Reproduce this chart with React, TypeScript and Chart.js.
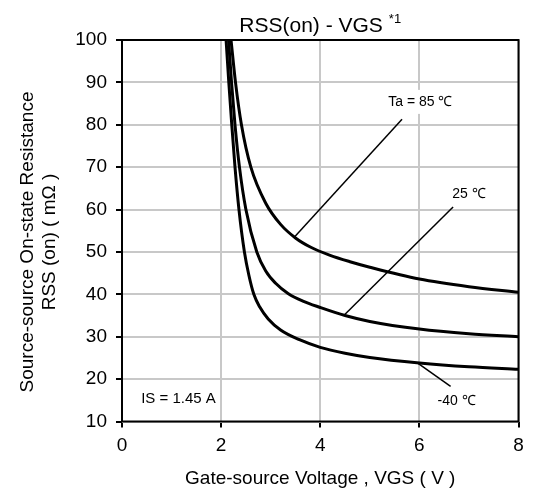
import React, { useEffect, useRef } from "react";
import { Chart, registerables } from "chart.js";

Chart.register(...registerables);

// ---- data ----
const xTicks = [0, 2, 4, 6, 8];
const yTicks = [10, 20, 30, 40, 50, 60, 70, 80, 90, 100];

const vgsM40 = [2.1, 2.155, 2.215, 2.28, 2.36, 2.47, 2.56, 2.66, 2.78, 2.95, 3.2, 3.58, 4, 4.5, 5, 6, 7, 8];
const rssM40 = [100, 90, 80, 70, 60, 50, 44.5, 40, 37, 34.2, 31.6, 29.3, 27.5, 26.1, 25.1, 23.8, 22.9, 22.3];

const vgs25 = [2.15, 2.21, 2.28, 2.37, 2.5, 2.72, 2.9, 3.1, 3.35, 3.65, 4, 4.5, 5, 6, 7, 8];
const rss25 = [100, 90, 80, 70, 60, 50, 45.5, 42.6, 40.2, 38.4, 36.9, 35.0, 33.6, 31.8, 30.7, 30.0];

const vgs85 = [2.2, 2.29, 2.41, 2.6, 2.9, 3.2, 3.5, 3.81, 4.2, 4.6, 5, 6, 7, 8];
const rss85 = [100, 90, 80, 70, 61.5, 56.5, 53.3, 51.1, 49.2, 47.7, 46.4, 43.6, 41.8, 40.5];

// leader lines (data coordinates)
const leader85X = [3.48, 5.65];
const leader85Y = [53.5, 81.3];
const leader25X = [4.48, 6.68];
const leader25Y = [35.05, 60.6];
const leaderM40X = [5.96, 6.63];
const leaderM40Y = [23.85, 18.3];

const noteTexts = ["Ta = 85 ℃", "25 ℃", "-40 ℃", "IS = 1.45 A"];
const noteX = [6.02, 7.0, 6.75, 1.14];
const noteY = [85.4, 63.6, 14.7, 15.3];

const titleText = "RSS(on) - VGS";
const titleSup = "*1";
const yTitleLines = ["Source-source On-state Resistance", "RSS (on) ( mΩ )"];
const xTitle = "Gate-source Voltage , VGS ( V )";

const FONT = "'Liberation Sans', Arial, sans-serif";

const toPts = (xs: number[], ys: number[]) => xs.map((x, i) => ({ x, y: ys[i] }));

export default function App() {
  const ref = useRef<HTMLCanvasElement | null>(null);

  useEffect(() => {
    if (!ref.current) return;
    document.body.style.margin = "0";

    const noteFonts = [14, 14, 14, 15];

    const overlay = {
      id: "overlay",
      beforeDatasetsDraw(chart: any) {
        const ctx = chart.ctx;
        const xs = chart.scales.x;
        const ys = chart.scales.y;
        ctx.save();
        noteTexts.forEach((t, i) => {
          ctx.font = `${noteFonts[i]}px ${FONT}`;
          const w = ctx.measureText(t).width;
          const px = xs.getPixelForValue(noteX[i]);
          const py = ys.getPixelForValue(noteY[i]);
          ctx.fillStyle = "#ffffff";
          ctx.fillRect(px - w / 2 - 4, py - noteFonts[i] / 2 - 5, w + 8, noteFonts[i] + 10);
        });
        ctx.restore();
      },
      afterDatasetsDraw(chart: any) {
        const ctx = chart.ctx;
        const a = chart.chartArea;
        const xs = chart.scales.x;
        const ys = chart.scales.y;
        ctx.save();
        // notes
        ctx.fillStyle = "#000";
        ctx.textAlign = "center";
        ctx.textBaseline = "middle";
        noteTexts.forEach((t, i) => {
          ctx.font = `${noteFonts[i]}px ${FONT}`;
          ctx.fillText(t, xs.getPixelForValue(noteX[i]), ys.getPixelForValue(noteY[i]));
        });
        // frame
        ctx.strokeStyle = "#000";
        ctx.lineWidth = 2;
        ctx.strokeRect(a.left, a.top, a.right - a.left, a.bottom - a.top);
        // title
        ctx.font = `21px ${FONT}`;
        const tw = ctx.measureText(titleText).width;
        ctx.font = `13px ${FONT}`;
        const sw = ctx.measureText(titleSup).width;
        const cx = (a.left + a.right) / 2;
        const start = cx - (tw + 6 + sw) / 2;
        ctx.textAlign = "left";
        ctx.textBaseline = "alphabetic";
        ctx.font = `21px ${FONT}`;
        ctx.fillText(titleText, start, 31.5);
        ctx.font = `13px ${FONT}`;
        ctx.fillText(titleSup, start + tw + 6, 23);
        // x title
        ctx.textAlign = "center";
        ctx.textBaseline = "alphabetic";
        ctx.font = `19px ${FONT}`;
        ctx.fillText(xTitle, cx, 483.5);
        // y title
        ctx.textBaseline = "middle";
        ctx.translate(0, 242);
        ctx.rotate(-Math.PI / 2);
        ctx.fillText(yTitleLines[0], 0, 28);
        ctx.fillText(yTitleLines[1], 0, 50);
        ctx.restore();
      },
    };

    const curve = (xs: number[], ys: number[]) => ({
      data: toPts(xs, ys),
      showLine: true,
      borderColor: "#000",
      borderWidth: 3,
      pointRadius: 0,
      cubicInterpolationMode: "monotone" as const,
      fill: false,
    });
    const leader = (xs: number[], ys: number[]) => ({
      data: toPts(xs, ys),
      showLine: true,
      borderColor: "#000",
      borderWidth: 1.5,
      pointRadius: 0,
      tension: 0,
      fill: false,
    });

    const chart = new Chart(ref.current, {
      type: "scatter",
      data: {
        datasets: [
          curve(vgsM40, rssM40),
          curve(vgs25, rss25),
          curve(vgs85, rss85),
          leader(leader85X, leader85Y),
          leader(leader25X, leader25Y),
          leader(leaderM40X, leaderM40Y),
        ],
      },
      options: {
        animation: false,
        responsive: false,
        events: [],
        layout: { padding: { top: 40, right: 16.5, left: 0, bottom: 0 } },
        plugins: {
          legend: { display: false },
          tooltip: { enabled: false },
          title: { display: false },
        },
        scales: {
          x: {
            type: "linear",
            min: xTicks[0],
            max: xTicks[xTicks.length - 1],
            afterBuildTicks: (s: any) => {
              s.ticks = xTicks.map((v) => ({ value: v }));
            },
            afterFit: (s: any) => {
              s.height = 69.5;
            },
            ticks: {
              color: "#000",
              font: { family: FONT, size: 19 },
              padding: 7,
              maxRotation: 0,
            },
            grid: {
              color: "#c8c8c8",
              lineWidth: 2,
              tickColor: "#000",
              tickLength: 6,
              tickWidth: 2,
            },
            border: { display: false },
          },
          y: {
            type: "linear",
            min: yTicks[0],
            max: yTicks[yTicks.length - 1],
            afterBuildTicks: (s: any) => {
              s.ticks = yTicks.map((v) => ({ value: v }));
            },
            afterFit: (s: any) => {
              s.width = 122;
            },
            ticks: {
              color: "#000",
              font: { family: FONT, size: 19 },
              padding: 9,
            },
            grid: {
              color: "#c8c8c8",
              lineWidth: 2,
              tickColor: "#000",
              tickLength: 6,
              tickWidth: 2,
            },
            border: { display: false },
          },
        },
      },
      plugins: [overlay],
    } as any);

    return () => chart.destroy();
  }, []);

  return (
    <div style={{ position: "absolute", left: 0, top: 0, width: 535, height: 491, background: "#fff" }}>
      <canvas ref={ref} width={535} height={491} style={{ width: 535, height: 491, display: "block" }} />
    </div>
  );
}
